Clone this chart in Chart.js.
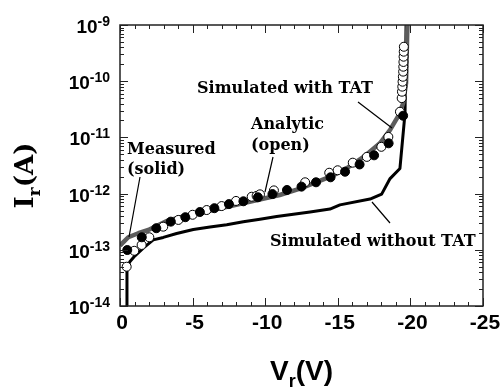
<!DOCTYPE html>
<html>
<head>
<meta charset="utf-8">
<script src="https://cdn.jsdelivr.net/npm/chart.js@4.4.1/dist/chart.umd.min.js"></script>
<style>
    html, body { margin: 0; padding: 0; background: #fff; }
</style>
</head>
<body>
<canvas id="chart" width="504" height="388"></canvas>
<script>
// measured reverse current (solid dots)
const measuredV = [-0.5, -1.5, -2.5, -3.5, -4.5, -5.5, -6.5, -7.5, -8.5, -9.5,
    -10.5, -11.5, -12.5, -13.5, -14.5, -15.5, -16.5, -17.5, -18.5, -19.5];
const measuredI = [9.9e-14, 1.67e-13, 2.42e-13, 3.17e-13, 3.8e-13, 4.7e-13, 5.5e-13, 6.5e-13, 7.3e-13, 8.6e-13,
    9.8e-13, 1.16e-12, 1.33e-12, 1.59e-12, 1.95e-12, 2.45e-12, 3.3e-12, 4.8e-12, 7.85e-12, 2.43e-11];

// analytic model (open dots)
const analyticV = [-0.46, -0.98, -1.49, -2.02, -2.98, -4.02, -5.0, -5.97, -7.0, -7.99,
    -9.07, -9.41, -9.64, -10.6, -12.75, -14.41, -14.99, -16.03, -17.0, -18.0,
    -18.48, -19.28, -19.4, -19.42, -19.44, -19.46, -19.48, -19.5, -19.51, -19.52,
    -19.53, -19.54, -19.55];
const analyticI = [5.0e-14, 9.6e-14, 1.22e-13, 1.67e-13, 2.58e-13, 3.4e-13, 4.2e-13, 5.1e-13, 6.0e-13, 7.4e-13,
    8.8e-13, 9.1e-13, 9.7e-13, 1.14e-12, 1.59e-12, 2.35e-12, 2.6e-12, 3.55e-12, 4.5e-12, 6.8e-12,
    1.02e-11, 2.86e-11, 5.0e-11, 6.5e-11, 8.0e-11, 9.8e-11, 1.2e-10, 1.48e-10, 1.81e-10, 2.2e-10,
    2.73e-10, 3.35e-10, 4.1e-10];

// simulation with trap assisted tunneling (grey line)
const withTatV = [0, -0.57, -1.26, -1.95, -3.22, -4.5, -5.5, -7.0, -9.0, -11.0,
    -12.4, -13.3, -14.5, -15.6, -16.8, -17.9, -18.6, -19.2, -19.5, -19.7,
    -19.78, -19.85];
const withTatI = [1.19e-13, 1.67e-13, 1.97e-13, 2.25e-13, 3.25e-13, 3.99e-13, 4.52e-13, 5.55e-13, 7.23e-13, 9.44e-13,
    1.23e-12, 1.52e-12, 2.0e-12, 2.82e-12, 4.54e-12, 7.85e-12, 1.36e-11, 2.5e-11, 4.05e-11, 9.2e-11,
    7.2e-10, 1.85e-9];

// simulation without TAT (black line)
const noTatV = [-0.47, -0.48, -0.69, -1.03, -1.6, -2.29, -2.98, -3.9, -5.05, -6.2,
    -7.35, -8.49, -9.64, -10.79, -11.94, -13.09, -14.46, -15.15, -17.22, -18.02,
    -18.6, -19.28, -19.63, -19.7, -19.73];
const noTatI = [1e-15, 4.7e-14, 6.2e-14, 7.8e-14, 1.07e-13, 1.5e-13, 1.66e-13, 1.95e-13, 2.3e-13, 2.55e-13,
    2.8e-13, 3.15e-13, 3.5e-13, 3.9e-13, 4.3e-13, 4.7e-13, 5.3e-13, 6.3e-13, 8e-13, 9.8e-13,
    1.85e-12, 2.8e-12, 2.7e-11, 1e-9, 1e-8];

const xTicks = [0, -5, -10, -15, -20, -25];
const yDecades = [-14, -13, -12, -11, -10, -9];

const toPoints = (xs, ys) => xs.map((x, i) => ({ x: x, y: ys[i] }));

// frame, inward ticks, tick labels, titles and callouts
const decorations = {
    id: 'decorations',
    afterDatasetsDraw(chart) {
        const ctx = chart.ctx;
        const xs = chart.scales.x, ys = chart.scales.y;
        const a = chart.chartArea;
        ctx.save();
        ctx.strokeStyle = '#222';
        ctx.lineWidth = 1.5;
        ctx.strokeRect(a.left, a.top, a.right - a.left, a.bottom - a.top);

        ctx.lineWidth = 1;
        ctx.beginPath();
        for (let v = 0; v >= -25; v--) {
            const px = Math.round(xs.getPixelForValue(v)) + 0.5;
            const len = v % 5 === 0 ? 8 : 4;
            ctx.moveTo(px, a.bottom); ctx.lineTo(px, a.bottom - len);
            ctx.moveTo(px, a.top); ctx.lineTo(px, a.top + len);
        }
        yDecades.forEach(d => {
            for (let m = 1; m <= 9; m++) {
                if (d === -9 && m > 1) break;
                const py = Math.round(ys.getPixelForValue(m * Math.pow(10, d))) + 0.5;
                const len = m === 1 ? 8 : 4;
                ctx.moveTo(a.left, py); ctx.lineTo(a.left + len, py);
                ctx.moveTo(a.right, py); ctx.lineTo(a.right - len, py);
            }
        });
        ctx.stroke();

        // tick labels
        ctx.fillStyle = '#000';
        ctx.font = 'bold 21px "Liberation Sans"';
        ctx.textAlign = 'center';
        ctx.textBaseline = 'middle';
        xTicks.forEach(v => {
            ctx.fillText(String(v), xs.getPixelForValue(v) + 2, a.bottom + 17);
        });

        ctx.textAlign = 'left';
        ctx.textBaseline = 'alphabetic';
        yDecades.forEach(d => {
            const py = ys.getPixelForValue(Math.pow(10, d));
            ctx.font = 'bold 14px "Liberation Sans"';
            const exp = String(d);
            const expW = ctx.measureText(exp).width;
            ctx.font = 'bold 19px "Liberation Sans"';
            const baseW = ctx.measureText('10').width;
            const left = 110 - expW - baseW;
            ctx.fillText('10', left, py + 8);
            ctx.font = 'bold 14px "Liberation Sans"';
            ctx.fillText(exp, left + baseW, py + 1);
        });

        // x title  V_r(V)
        ctx.font = 'bold 28px "Liberation Sans"';
        const wV = ctx.measureText('V').width, wPar = ctx.measureText('(V)').width;
        ctx.font = 'bold 18px "Liberation Sans"';
        const wR = ctx.measureText('r').width;
        let tx = (a.left + a.right) / 2 - (wV + wR + wPar) / 2;
        ctx.font = 'bold 28px "Liberation Sans"';
        ctx.fillText('V', tx, 380);
        ctx.fillText('(V)', tx + wV + wR, 380);
        ctx.font = 'bold 18px "Liberation Sans"';
        ctx.fillText('r', tx + wV, 387);

        // y title  I_r(A)
        ctx.save();
        ctx.translate(33, (a.top + a.bottom) / 2 + 10);
        ctx.rotate(-Math.PI / 2);
        ctx.font = 'bold 26px "DejaVu Serif"';
        const wI = ctx.measureText('I').width, wA = ctx.measureText('(A)').width;
        ctx.font = 'bold 17px "DejaVu Serif"';
        const wr = ctx.measureText('r').width;
        tx = -(wI + wr + wA) / 2;
        ctx.font = 'bold 26px "DejaVu Serif"';
        ctx.fillText('I', tx, 0);
        ctx.fillText('(A)', tx + wI + wr, 0);
        ctx.font = 'bold 17px "DejaVu Serif"';
        ctx.fillText('r', tx + wI, 7);
        ctx.restore();

        // callouts
        ctx.font = 'bold 16px "DejaVu Serif"';
        ctx.textBaseline = 'middle';
        ctx.fillText('Simulated with TAT', 197, 89);
        ctx.fillText('Analytic', 251, 125);
        ctx.fillText('(open)', 251, 146);
        ctx.fillText('Measured', 127, 150);
        ctx.fillText('(solid)', 127, 170);
        ctx.fillText('Simulated without TAT', 270, 242);

        ctx.strokeStyle = '#000';
        ctx.lineWidth = 1.2;
        ctx.beginPath();
        ctx.moveTo(358, 102); ctx.lineTo(392, 128);
        ctx.moveTo(273, 157); ctx.lineTo(265, 192);
        ctx.moveTo(140, 177); ctx.lineTo(129, 237);
        ctx.moveTo(372, 202); ctx.lineTo(390, 223);
        ctx.stroke();
        ctx.restore();
    }
};

new Chart(document.querySelector('#chart'), {
    type: 'scatter',
    data: {
        datasets: [
            {
                label: 'Measured',
                data: toPoints(measuredV, measuredI),
                pointRadius: 4.5,
                pointBackgroundColor: '#000',
                pointBorderColor: '#000',
                pointBorderWidth: 1
            },
            {
                label: 'Analytic',
                data: toPoints(analyticV, analyticI),
                pointRadius: 4.5,
                pointBackgroundColor: '#fff',
                pointBorderColor: '#000',
                pointBorderWidth: 1
            },
            {
                label: 'Simulated with TAT',
                data: toPoints(withTatV, withTatI),
                showLine: true,
                pointRadius: 0,
                borderColor: '#5c5c5c',
                borderWidth: 4.5,
                borderJoinStyle: 'round'
            },
            {
                label: 'Simulated without TAT',
                data: toPoints(noTatV, noTatI),
                showLine: true,
                pointRadius: 0,
                borderColor: '#000',
                borderWidth: 3,
                borderJoinStyle: 'round'
            }
        ]
    },
    options: {
        responsive: false,
        animation: false,
        layout: { padding: { left: 120, right: 21, top: 25, bottom: 82 } },
        plugins: { legend: { display: false }, tooltip: { enabled: false } },
        scales: {
            x: { type: 'linear', min: -25, max: 0, reverse: true, display: false },
            y: { type: 'logarithmic', min: 1e-14, max: 1e-9, display: false }
        }
    },
    plugins: [decorations]
});
</script>
</body>
</html>
